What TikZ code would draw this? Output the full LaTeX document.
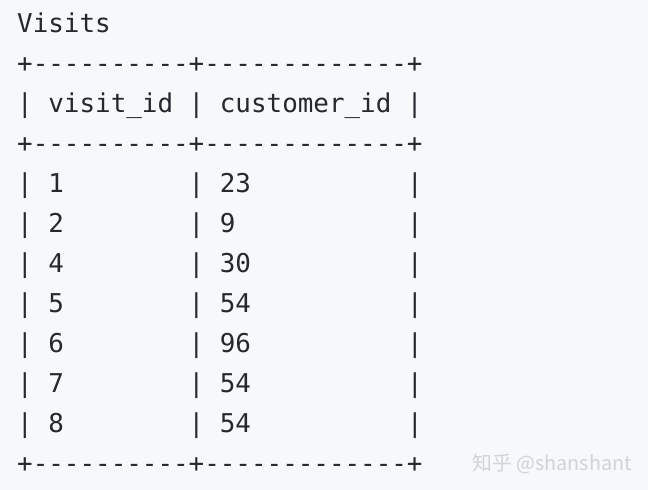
\documentclass[tikz,border=0pt]{standalone}
\usepackage{fontspec}
\setmonofont{DejaVu Sans Mono}
\newfontfamily\cjkfont{Noto Sans CJK SC}
\definecolor{codebg}{HTML}{F6F8FA}
\definecolor{codetext}{HTML}{24292E}
\definecolor{markgray}{HTML}{D0D3D7}

\tikzset{tline/.style={anchor=base west, inner sep=0pt, text=codetext, font=\fontsize{25.9}{40}\selectfont\ttfamily}}

\begin{document}
\begin{tikzpicture}[x=1pt,y=1pt]

\fill[codebg] (0,0) rectangle (648,-490);

\node[tline] (title) at (17,-32) {Visits};
\node[tline] (rule1) at (17,-72) {+----------+-------------+};
\node[tline] (head)  at (17,-112) {|~visit\_id~|~customer\_id~|};
\node[tline] (rule2) at (17,-152) {+----------+-------------+};
\node[tline] (row1)  at (17,-192) {|~1~~~~~~~~|~23~~~~~~~~~~|};
\node[tline] (row2)  at (17,-232) {|~2~~~~~~~~|~9~~~~~~~~~~~|};
\node[tline] (row3)  at (17,-272) {|~4~~~~~~~~|~30~~~~~~~~~~|};
\node[tline] (row4)  at (17,-312) {|~5~~~~~~~~|~54~~~~~~~~~~|};
\node[tline] (row5)  at (17,-352) {|~6~~~~~~~~|~96~~~~~~~~~~|};
\node[tline] (row6)  at (17,-392) {|~7~~~~~~~~|~54~~~~~~~~~~|};
\node[tline] (row7)  at (17,-432) {|~8~~~~~~~~|~54~~~~~~~~~~|};
\node[tline] (rule3) at (17,-472) {+----------+-------------+};

\node[anchor=base east, inner sep=0pt, text=markgray, font=\cjkfont\fontsize{19.8}{20}\selectfont] (mark) at (632,-470) {知乎 @shanshant};

\end{tikzpicture}
\end{document}
